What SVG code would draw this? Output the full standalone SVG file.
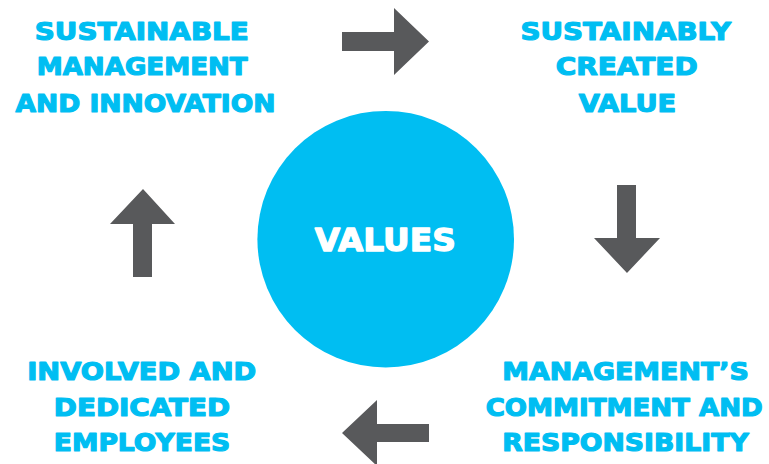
<svg xmlns="http://www.w3.org/2000/svg" width="769" height="464" viewBox="0 0 769 464">
  <style>
    .lbl { font-family: "DejaVu Sans", "Liberation Sans", sans-serif; font-weight: bold; font-size: 24.5px; fill: #00BEF2; stroke: #00BEF2; stroke-width: 1.2; stroke-linejoin: round; text-anchor: middle; }
    .core { font-family: "DejaVu Sans", "Liberation Sans", sans-serif; font-weight: bold; font-size: 32.5px; fill: #FFFFFF; stroke: #FFFFFF; stroke-width: 1.3; stroke-linejoin: round; text-anchor: middle; }
    .arrow { fill: #58595B; }
  </style>
  <rect width="769" height="464" fill="#FFFFFF"/>

  <!-- cycle arrows -->
  <g id="connectors">
    <polygon class="arrow" points="342,32 394,32 394,8 429,41.5 394,75 394,51 342,51"/>
    <polygon class="arrow" points="617,185 636,185 636,238 660,238 627,273 594,238 617,238"/>
    <polygon class="arrow" points="429,424 377,424 377,400 342,433 377,466 377,442 429,442"/>
    <polygon class="arrow" points="133,277 152,277 152,224 175,224 143,189 110,224 133,224"/>
  </g>

  <g id="values">
    <circle cx="385.7" cy="239.2" r="128.3" fill="#00BEF2"/>
    <text class="core" x="385.3" y="250.5" textLength="141" lengthAdjust="spacingAndGlyphs">VALUES</text>
  </g>

  <g id="sustainable-management">
    <text class="lbl" x="141.8" y="40.3" textLength="214" lengthAdjust="spacingAndGlyphs">SUSTAINABLE</text>
    <text class="lbl" x="142.2" y="74.9" textLength="211" lengthAdjust="spacingAndGlyphs">MANAGEMENT</text>
    <text class="lbl" x="145.5" y="111.6" textLength="260" lengthAdjust="spacingAndGlyphs">AND INNOVATION</text>
  </g>

  <g id="sustainably-created-value">
    <text class="lbl" x="625.8" y="40.3" textLength="210.5" lengthAdjust="spacingAndGlyphs">SUSTAINABLY</text>
    <text class="lbl" x="626.7" y="74.9" textLength="142" lengthAdjust="spacingAndGlyphs">CREATED</text>
    <text class="lbl" x="627.5" y="111.6" textLength="97.5" lengthAdjust="spacingAndGlyphs">VALUE</text>
  </g>

  <g id="management-commitment">
    <text class="lbl" x="625.5" y="380.3" textLength="246.5" lengthAdjust="spacingAndGlyphs">MANAGEMENT’S</text>
    <text class="lbl" x="624.2" y="416.3" textLength="277" lengthAdjust="spacingAndGlyphs">COMMITMENT AND</text>
    <text class="lbl" x="625.5" y="451.3" textLength="246.5" lengthAdjust="spacingAndGlyphs">RESPONSIBILITY</text>
  </g>

  <g id="involved-employees">
    <text class="lbl" x="141.7" y="380.3" textLength="229" lengthAdjust="spacingAndGlyphs">INVOLVED AND</text>
    <text class="lbl" x="142" y="416.3" textLength="176.4" lengthAdjust="spacingAndGlyphs">DEDICATED</text>
    <text class="lbl" x="142" y="451.3" textLength="176.4" lengthAdjust="spacingAndGlyphs">EMPLOYEES</text>
  </g>
</svg>
